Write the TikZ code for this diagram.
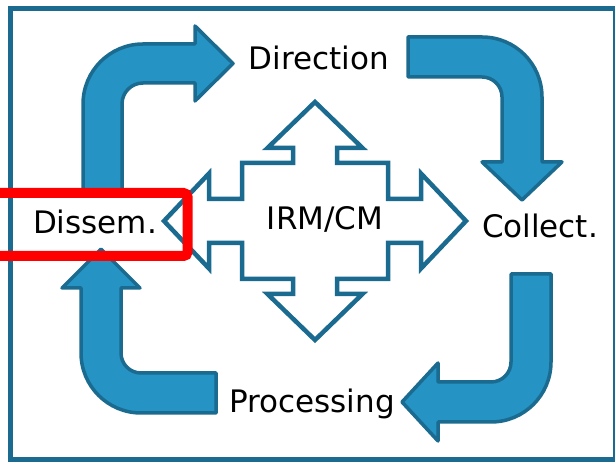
\documentclass[tikz,border=0pt]{standalone}
\usepackage{fontspec}
\setmainfont{DejaVu Sans}
\definecolor{cyclefill}{RGB}{37,147,196}
\definecolor{cycleline}{RGB}{26,107,143}

\begin{document}
\begin{tikzpicture}[x=1pt,y=1pt,
		bent/.style={fill=cyclefill, draw=cycleline, line width=3.5pt, line join=round},
		hubline/.style={fill=white, draw=cycleline, line width=4.5pt},
		phase/.style={font=\fontsize{31}{36}\selectfont, anchor=base, inner sep=0pt}]
	\useasboundingbox (0,0) rectangle (615,462);
	\draw[cycleline, line width=5pt] (10,2.5) rectangle (615,453.5);
	
	% Dissem. -> Direction
	\draw[bent] (83,267) -- (83,358) arc[start angle=180, end angle=90, radius=60pt]
		-- (195,418) -- (195,436) -- (233,398.5) -- (195,361) -- (195,379)
		-- (143,379) arc[start angle=90, end angle=180, radius=21pt] -- (122,267) -- cycle;
	
	% Direction -> Collect.
	\draw[bent] (408,425) -- (482,425) arc[start angle=90, end angle=0, radius=60pt]
		-- (542,300) -- (562,300) -- (522,262) -- (482,300) -- (502,300)
		-- (502,365) arc[start angle=0, end angle=90, radius=20pt] -- (408,385) -- cycle;
	
	% Collect. -> Processing
	\draw[bent] (551,188) -- (551,100) arc[start angle=0, end angle=-90, radius=60pt]
		-- (438,40) -- (438,21) -- (402,60) -- (438,99) -- (438,80)
		-- (491,80) arc[start angle=270, end angle=360, radius=20pt] -- (511,188) -- cycle;
	
	% Processing -> Dissem.
	\draw[bent] (216,49) -- (141,49) arc[start angle=270, end angle=180, radius=60pt]
		-- (81,174) -- (62,174) -- (101,213) -- (140,174) -- (121,174)
		-- (121,109) arc[start angle=180, end angle=270, radius=20pt] -- (216,89) -- cycle;
	
	% IRM/CM
	\begin{scope}[shift={(315,241)}]
		\draw[hubline] (0,119) -- (47.5,73) -- (22,73) -- (22,58) -- (73,58) -- (73,22)
			-- (106,22) -- (106,47.5) -- (151,0) -- (106,-47.5) -- (106,-22) -- (73,-22)
			-- (73,-58) -- (22,-58) -- (22,-73) -- (47.5,-73) -- (0,-119) -- (-47.5,-73)
			-- (-22,-73) -- (-22,-58) -- (-73,-58) -- (-73,-22) -- (-106,-22) -- (-106,-47.5)
			-- (-151,0) -- (-106,47.5) -- (-106,22) -- (-73,22) -- (-73,58) -- (-22,58)
			-- (-22,73) -- (-47.5,73) -- cycle;
	\end{scope}
	
	\node[phase] (hub) at (325,232) {IRM/CM};
	\node[phase] (dir) at (319,392) {Direction};
	\node[phase] (coll) at (540,224) {Collect.};
	\node[phase] (proc) at (312,49) {Processing};
	\node[phase] (diss) at (95,228) {Dissem.};
	
	\draw[red, line width=10pt, rounded corners=4pt] (-20,206) rectangle (187.5,269);
\end{tikzpicture}
\end{document}
